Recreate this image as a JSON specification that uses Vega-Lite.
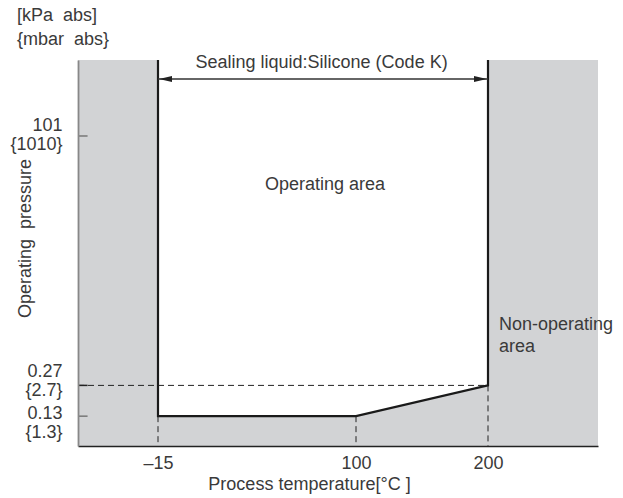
{
  "$schema": "https://vega.github.io/schema/vega-lite/v6.json",
  "width": 520,
  "height": 386,
  "autosize": {"type": "none"},
  "padding": {"left": 78, "top": 60, "right": 25, "bottom": 52},
  "background": "white",
  "view": {"stroke": null},
  "config": {
    "font": "Liberation Sans",
    "text": {"font": "Liberation Sans", "fontSize": 18, "color": "#3a3a3a"}
  },
  "title": {
    "text": ["[kPa\u00a0 abs]", "{mbar\u00a0 abs}"],
    "anchor": "start",
    "frame": "group",
    "dx": -61,
    "offset": 5,
    "font": "Liberation Sans",
    "fontSize": 18,
    "fontWeight": "normal",
    "color": "#3a3a3a",
    "lineHeight": 24
  },
  "datasets": {
    "regions": [{"t0": -61, "t1": -15}, {"t0": 200, "t1": 283}],
    "floor": [{"t": -15, "p": 0.13}, {"t": 100, "p": 0.13}, {"t": 200, "p": 0.27}],
    "boundary": [
      {"i": 0, "t": -15, "p": 614},
      {"i": 1, "t": -15, "p": 0.13},
      {"i": 2, "t": 100, "p": 0.13},
      {"i": 3, "t": 200, "p": 0.27},
      {"i": 4, "t": 200, "p": 614}
    ],
    "hdash": [{"t0": -61, "t1": 200, "p": 0.27}],
    "ticks": [{"p": 101}, {"p": 0.27}, {"p": 0.13}],
    "arrow": [{"t0": -15, "t1": 200, "p": 391}],
    "labels": [
      {"t": 80, "p": 572, "label": "Sealing liquid:Silicone (Code K)"},
      {"t": 82, "p": 31.5, "label": "Operating area"}
    ],
    "side": [{"t": 200, "p": 1.13, "label": ["Non-operating", "area"]}]
  },
  "encoding": {
    "x": {
      "type": "quantitative",
      "scale": {"domain": [-61, -15, 100, 200, 283], "range": [0, 80, 278, 410, 520], "nice": false, "zero": false}
    },
    "y": {
      "type": "quantitative",
      "scale": {"type": "log", "domain": [0.064, 614], "nice": false}
    }
  },
  "layer": [
    {
      "data": {"name": "regions"},
      "mark": {"type": "rect", "color": "#d2d3d5"},
      "encoding": {
        "x": {"field": "t0", "type": "quantitative", "axis": {
          "values": [-15, 100, 200],
          "labelExpr": "datum.value == -15 ? '\u201315' : datum.label",
          "ticks": false,
          "grid": false,
          "domainColor": "#222222",
          "domainWidth": 1.5,
          "labelFont": "Liberation Sans",
          "labelFontSize": 18,
          "labelColor": "#3a3a3a",
          "labelPadding": 8,
          "title": "Process temperature[°C ]",
          "titleFont": "Liberation Sans",
          "titleFontSize": 18,
          "titleFontWeight": "normal",
          "titleColor": "#3a3a3a",
          "titleX": 231,
          "titleY": 43,
          "titleBaseline": "alphabetic",
          "titleAlign": "center",
          "zindex": 1
        }},
        "x2": {"field": "t1"},
        "y": {"datum": 614, "type": "quantitative", "axis": {
          "values": [0.13, 0.27, 101],
          "labelExpr": "datum.value == 101 ? ['101', '{1010}'] : datum.value == 0.27 ? ['0.27', '{2.7}'] : ['0.13', '{1.3}']",
          "ticks": false,
          "grid": false,
          "domainColor": "#888888",
          "domainWidth": 1.8,
          "labelFont": "Liberation Sans",
          "labelFontSize": 18,
          "labelColor": "#3a3a3a",
          "labelPadding": 16,
          "labelAlign": "right",
          "labelBaseline": "middle",
          "labelLineHeight": 19,
          "labelOffset": {"condition": [{"test": "datum.value == 0.13", "value": -3}, {"test": "datum.value == 0.27", "value": -14}], "value": -10},
          "title": "Operating\u00a0 pressure",
          "titleFont": "Liberation Sans",
          "titleFontSize": 18,
          "titleFontWeight": "normal",
          "titleColor": "#3a3a3a",
          "titleAngle": -90,
          "titleX": -53,
          "titleY": 178,
          "titleAlign": "center",
          "titleBaseline": "middle",
          "zindex": 1
        }},
        "y2": {"datum": 0.064}
      }
    },
    {
      "data": {"name": "floor"},
      "mark": {"type": "area", "color": "#d2d3d5"},
      "encoding": {
        "x": {"field": "t", "type": "quantitative"},
        "y": {"field": "p", "type": "quantitative"},
        "y2": {"datum": 0.064}
      }
    },
    {
      "data": {"name": "hdash"},
      "mark": {"type": "rule", "color": "#222222", "strokeWidth": 1, "strokeDash": [6, 4]},
      "encoding": {
        "x": {"field": "t0", "type": "quantitative"},
        "x2": {"field": "t1"},
        "y": {"field": "p", "type": "quantitative"}
      }
    },
    {
      "data": {"name": "floor"},
      "mark": {"type": "rule", "color": "#222222", "strokeWidth": 1, "strokeDash": [6, 4]},
      "encoding": {
        "x": {"field": "t", "type": "quantitative"},
        "y": {"field": "p", "type": "quantitative"},
        "y2": {"datum": 0.064}
      }
    },
    {
      "data": {"name": "boundary"},
      "mark": {"type": "line", "color": "#1a1a1a", "strokeWidth": 2.2, "strokeJoin": "miter"},
      "encoding": {
        "x": {"field": "t", "type": "quantitative"},
        "y": {"field": "p", "type": "quantitative"},
        "order": {"field": "i", "type": "quantitative"}
      }
    },
    {
      "data": {"name": "ticks"},
      "mark": {"type": "rule", "strokeWidth": 1.5},
      "encoding": {
        "x": {"datum": -61, "type": "quantitative"},
        "x2": {"datum": -55.5},
        "y": {"field": "p", "type": "quantitative"},
        "color": {"condition": {"test": "datum.p == 0.27", "value": "#222222"}, "value": "#777777"},
        "strokeWidth": {"condition": {"test": "datum.p == 0.27", "value": 2.2}, "value": 1.3}
      }
    },
    {
      "data": {"name": "arrow"},
      "mark": {"type": "rule", "color": "#333333", "strokeWidth": 1.3},
      "encoding": {
        "x": {"field": "t0", "type": "quantitative"},
        "x2": {"field": "t1"},
        "y": {"field": "p", "type": "quantitative"}
      }
    },
    {
      "data": {"name": "arrow"},
      "mark": {"type": "point", "filled": true, "color": "#222222", "opacity": 1, "size": 169, "shape": "M-1,0L1,-0.45L1,0.45Z", "xOffset": 7.5},
      "encoding": {
        "x": {"field": "t0", "type": "quantitative"},
        "y": {"field": "p", "type": "quantitative"}
      }
    },
    {
      "data": {"name": "arrow"},
      "mark": {"type": "point", "filled": true, "color": "#222222", "opacity": 1, "size": 169, "shape": "M1,0L-1,-0.45L-1,0.45Z", "xOffset": -7.5},
      "encoding": {
        "x": {"field": "t1", "type": "quantitative"},
        "y": {"field": "p", "type": "quantitative"}
      }
    },
    {
      "data": {"name": "labels"},
      "mark": {"type": "text", "align": "center", "baseline": "middle"},
      "encoding": {
        "x": {"field": "t", "type": "quantitative"},
        "y": {"field": "p", "type": "quantitative"},
        "text": {"field": "label"}
      }
    },
    {
      "data": {"name": "side"},
      "mark": {"type": "text", "align": "left", "baseline": "middle", "dx": 11, "lineHeight": 22},
      "encoding": {
        "x": {"field": "t", "type": "quantitative"},
        "y": {"field": "p", "type": "quantitative"},
        "text": {"field": "label"}
      }
    }
  ]
}
